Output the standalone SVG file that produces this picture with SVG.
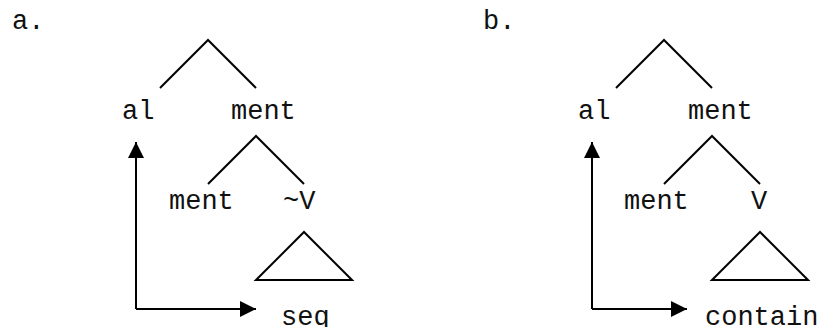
<svg xmlns="http://www.w3.org/2000/svg" width="819" height="327" viewBox="0 0 819 327">
<defs>
<marker id="ah" viewBox="0 0 10 10" refX="10" refY="5" markerWidth="17" markerHeight="16" markerUnits="userSpaceOnUse" orient="auto">
<path d="M0,0 L10,5 L0,10 Z" fill="#000"/>
</marker>
</defs>
<style>
text{font-family:"Liberation Mono","Courier New",monospace;font-size:27px;fill:#111}
.l{fill:none;stroke:#000;stroke-width:2}
.a{fill:none;stroke:#000;stroke-width:2;marker-end:url(#ah)}
</style>
<rect width="819" height="327" fill="#fff"/>
<g id="label-a"><text x="12" y="29">a.</text></g>
<g id="label-b"><text x="483" y="29">b.</text></g>
<g id="a-root"><path class="l" d="M160,88 L208,40 L256,88"/></g>
<g id="a-al"><text x="122" y="119">al</text></g>
<g id="a-ment"><path class="l" d="M208,184 L256,136 L304,184"/><text x="231" y="119">ment</text></g>
<g id="a-ment2"><text x="169" y="209">ment</text></g>
<g id="a-V"><path class="l" d="M256,280 L304,232 L352,280 Z"/><text x="283" y="209">~V</text></g>
<g id="a-seq"><text x="281" y="325">seq</text></g>
<g id="b-root"><path class="l" d="M616,88 L664,40 L712,88"/></g>
<g id="b-al"><text x="578" y="119">al</text></g>
<g id="b-ment"><path class="l" d="M664,184 L712,136 L760,184"/><text x="688" y="119">ment</text></g>
<g id="b-ment2"><text x="624" y="209">ment</text></g>
<g id="b-V"><path class="l" d="M712,280 L760,232 L808,280 Z"/><text x="751" y="209">V</text></g>
<g id="b-contain"><text x="705" y="325">contain</text></g>
<g id="connectors">
<path class="a" d="M136,309 L136,142"/>
<path class="a" d="M136,309 L256,309"/>
<path class="a" d="M592,309 L592,142"/>
<path class="a" d="M592,309 L687,309"/>
</g>
</svg>
